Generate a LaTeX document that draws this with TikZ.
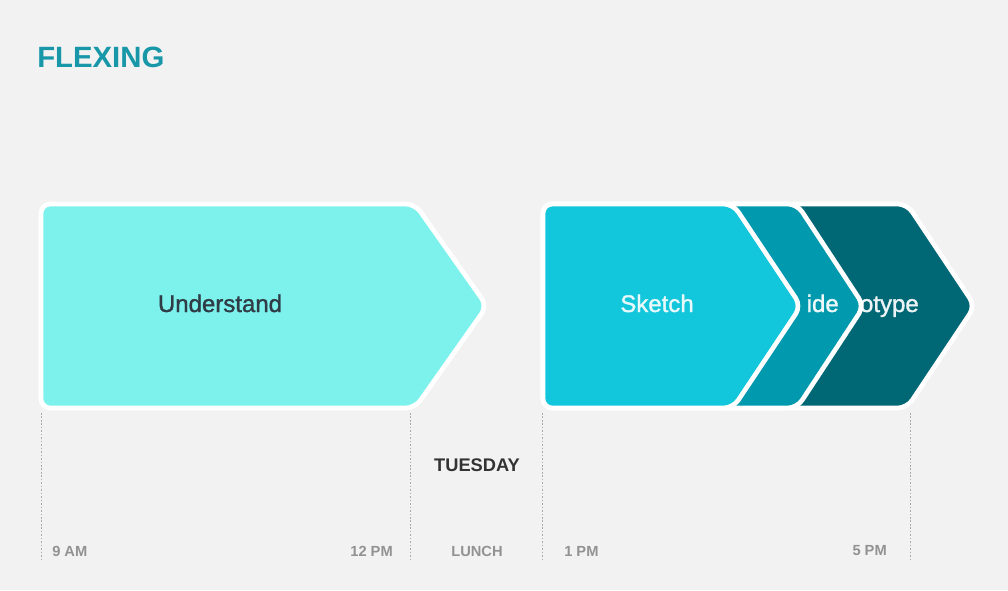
\documentclass[tikz,border=0pt]{standalone}
\usepackage{fontspec}
\setmainfont{Liberation Sans}
\newfontfamily\medfont[FakeBold=1.3]{Liberation Sans}
\definecolor{bg}{HTML}{F2F2F2}
\definecolor{titlecol}{HTML}{1797A8}
\definecolor{undcol}{HTML}{7DF2EC}
\definecolor{skcol}{HTML}{12C6DC}
\definecolor{decol}{HTML}{0099AE}
\definecolor{prcol}{HTML}{006775}
\definecolor{darktext}{HTML}{2F3B45}
\definecolor{graytext}{HTML}{929292}
\definecolor{dotcol}{HTML}{AAAAAA}
\tikzset{
  chev/.style={draw=white, line width=3.5pt, rounded corners=7pt, line join=round},
  bigtext/.style={font=\medfont\fontsize{18}{20}\selectfont, inner sep=0pt, anchor=base},
  timelbl/.style={font=\bfseries\fontsize{11}{13}\selectfont, text=graytext, inner sep=0pt},
  guide/.style={draw=dotcol, line width=0.6pt, dash pattern=on 1.2pt off 1.4pt},
}
\newcommand\chevpath[3]{(#1,306) -- (#1,204) -- (#2,204) -- (#3,306) -- (#2,408) -- (#1,408) -- cycle}
\begin{document}
\begin{tikzpicture}[x=0.75pt,y=-0.75pt]
\fill[bg] (0,0) rectangle (1008,590);
\useasboundingbox (0,0) rectangle (1008,590);

\node[font=\fontsize{22}{24}\selectfont\bfseries, text=titlecol, anchor=west, inner sep=0pt] (title) at (37,57) {FLEXING};

% guide lines
\coordinate (g1t) at (41,413); \coordinate (g1b) at (41,560);
\coordinate (g2t) at (410,413); \coordinate (g2b) at (410,560);
\coordinate (g3t) at (542,413); \coordinate (g3b) at (542,560);
\coordinate (g4t) at (910,413); \coordinate (g4b) at (910,560);
\draw[guide] (g1t) -- (g1b);
\draw[guide] (g2t) -- (g2b);
\draw[guide] (g3t) -- (g3b);
\draw[guide] (g4t) -- (g4b);

% Understand
\filldraw[chev, fill=undcol] \chevpath{41}{415}{487};
\node[bigtext, text=darktext] (und) at (220,312) {Understand};

% Prototype
\filldraw[chev, fill=prcol] \chevpath{543}{907}{975};
\node[bigtext, text=white!93!prcol, anchor=base east] (proto) at (919,312) {otype};
% Decide
\filldraw[chev, fill=decol] \chevpath{543}{797}{864};
\node[bigtext, text=white!93!decol, anchor=base east] (decide) at (839,312) {ide};
% Sketch
\filldraw[chev, fill=skcol] \chevpath{543}{733}{801};
\node[bigtext, text=white!90!skcol] (sketch) at (657,312) {Sketch};

\node[font=\fontsize{13.7}{15}\selectfont\bfseries, text=black!80, inner sep=0pt] (tue) at (477,465) {TUESDAY};

\node[timelbl, anchor=west] (t9) at (52,551) {9 AM};
\node[timelbl, anchor=east] (t12) at (393,551) {12 PM};
\node[timelbl] (lunch) at (477,551) {LUNCH};
\node[timelbl, anchor=west] (t1) at (564,551) {1 PM};
\node[timelbl, anchor=east] (t5) at (887,551) {5 PM};
\end{tikzpicture}
\end{document}
